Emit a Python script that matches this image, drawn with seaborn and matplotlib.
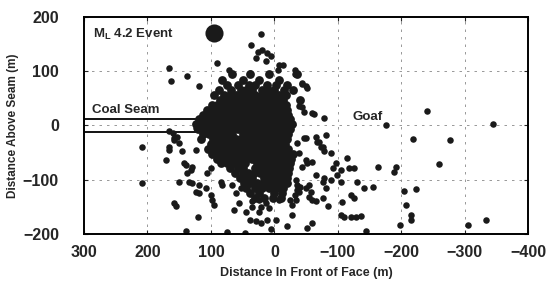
import numpy as np
import pandas as pd
import matplotlib
matplotlib.use("Agg")
import matplotlib.pyplot as plt
import seaborn as sns

# ── data ────────────────────────────────────────────────────────────────────
# dense cluster around the face, one row per height band: (y, [x, ...])
blob_rows = [
    (95, [66, 39, 8, -35]),
    (84, [82, 50, 24, -8]),
    (75, [75, 58, 40, 30, 12, -2, -20]),
    (66, [88, 68, 52, 44, 35, 20, 10, 0, -15, -30]),
    (56, [95, 80, 70, 60, 50, 40, 30, 20, 10, 2, -8, -18]),
    (47, [85, 76, 67, 58, 49, 40, 31, 22, 13, 4, -5, -14, -40]),
    (38, [98, 90, 81, 72, 63, 54, 45, 36, 27, 18, 9, 0, -9, -18]),
    (29, [106, 97, 88, 79, 70, 61, 52, 43, 34, 25, 16, 7, -2, -11, -20]),
    (20, [112, 103, 94, 85, 76, 67, 58, 49, 40, 31, 22, 13, 4, -5, -14, -22]),
    (11, [118, 109, 100, 91, 82, 73, 64, 55, 46, 37, 28, 19, 10, 1, -8, -17, -25]),
    (2, [124, 115, 106, 97, 88, 79, 70, 61, 52, 43, 34, 25, 16, 7, -2, -11, -20, -28]),
    (-7, [120, 111, 102, 93, 84, 75, 66, 57, 48, 39, 30, 21, 12, 3, -6, -15, -24]),
    (-16, [112, 103, 94, 85, 76, 67, 49, 40, 31, 22, 13, 4, -5, -14, -22]),
    (-25, [116, 97, 88, 79, 70, 61, 52, 43, 34, 25, 16, 7, -2, -11, -20]),
    (-34, [100, 91, 82, 73, 64, 55, 46, 37, 28, 19, 10, 1, -8, -17]),
    (-43, [104, 95, 86, 77, 68, 59, 50, 41, 32, 23, 14, 5, -4, -13, -22]),
    (-52, [98, 88, 79, 70, 61, 52, 43, 34, 25, 16, 7, -2, -11, -20, -30]),
    (-61, [90, 81, 72, 63, 54, 45, 36, 27, 18, 9, 0, -9, -18, -26]),
    (-70, [84, 74, 64, 55, 46, 28, 19, 10, 1, -8, -17, -25]),
    (-79, [70, 58, 49, 31, 22, 13, 4, -5, -14, -23]),
    (-88, [62, 50, 41, 32, 23, 14, 5, -4, -13, -22]),
    (-97, [54, 44, 35, 17, 8, -1, -10, -20]),
    (-106, [48, 38, 28, 18, 9, 0, -10, -20]),
    (-115, [44, 30, 20, 8, -3, -14]),
    (-124, [38, 24, 0, -12]),
    (-133, [30, 16, 2, -10]),
]

upper_events = [(21, 169), (37, 148), (26, 136), (19, 139), (11, 133), (5, 128),
                (29, 124), (13, 118), (-8, 111), (90, 115), (166, 106), (137, 91),
                (163, 82), (118, 73), (-32, 103), (-32, 94), (-44, 76), (-52, 69),
                (-13, 111), (71, 102), (39, 96), (-5, 102), (-44, 34), (-46, 25),
                (-63, 21), (-79, 14), (-39, 35), (-60, 23)]

left_events = [(208, -40), (208, -107), (166, -11), (158, -23), (166, -39), (150, -32),
               (145, -48), (124, -5), (171, -64), (166, -45), (158, -27), (153, -21),
               (160, -14), (142, -70), (131, -82), (137, -88), (139, -73), (150, -104),
               (129, -107), (124, -122), (118, -125), (108, -116), (100, -128), (98, -137),
               (95, -147), (84, -104), (63, -155), (66, -110), (53, -116), (158, -143),
               (155, -148), (121, -169), (139, -194), (74, -196), (47, -198), (129, -76),
               (124, -45), (134, -104), (118, -110), (82, -110), (60, -125), (55, -143),
               (106, -88), (100, -78)]

lower_events = [(35, -140), (24, -137), (13, -143), (39, -174), (29, -177), (21, -180),
                (11, -174), (-3, -174), (24, -159), (-28, -147), (-34, -137), (-39, -122),
                (-36, -110), (-50, -116), (35, -150), (21, -150), (8, -153), (-8, -137),
                (45, -160), (-20, -185), (5, -190), (-55, -131), (-66, -140), (-28, -165),
                (-60, -179), (-52, -189), (-24, -137), (-32, -128), (-36, -119)]

right_events = [(-36, -33), (-50, -24), (-52, -70), (-44, 78), (-50, 72), (-66, -21),
                (-71, -30), (-76, -39), (-47, -24), (-39, -51), (-50, -64), (-44, -76),
                (-34, -100), (-41, -113), (-66, -91), (-76, -104), (-81, -116), (-82, -17),
                (-68, -30), (-74, -39), (-79, -48), (-89, -51), (-60, -67), (-97, -69),
                (-115, -60), (-92, -78), (-105, -82), (-118, -78), (-126, -78), (-99, -91),
                (-105, -104), (-79, -97), (-89, -100), (-131, -105), (-142, -116),
                (-155, -114), (-55, -110), (-58, -122), (-60, -137), (-76, -134),
                (-84, -148), (-107, -142), (-121, -128), (-125, -134), (-105, -165),
                (-110, -169), (-121, -169), (-129, -168), (-137, -167), (-145, -194)]

goaf_events = [(-176, 0), (-241, 27), (-344, 3), (-219, -25), (-277, -27), (-259, -71),
               (-164, -77), (-191, -76), (-189, -86), (-205, -120), (-223, -117),
               (-208, -147), (-215, -165), (-215, -175), (-198, -183), (-305, -183),
               (-333, -174)]

big_event = (95, 170)        # ML 4.2 event
seam_x = [300, 100]          # coal seam extent ahead of face
seam_top, seam_bottom = 12, -12

x_ticks = [300, 200, 100, 0, -100, -200, -300, -400]
y_ticks = [-200, -100, 0, 100, 200]

# ── build tables ────────────────────────────────────────────────────────────
blob_df = pd.DataFrame([(x, y) for y, xs in blob_rows for x in xs],
                       columns=["dist_face", "dist_seam"])
sparse_df = pd.DataFrame(upper_events + left_events + lower_events + right_events + goaf_events,
                         columns=["dist_face", "dist_seam"])

sns.set_style("white")
plt.rcParams["font.family"] = ["Liberation Sans", "DejaVu Sans"]

fig = plt.figure(figsize=(5.49, 2.91), dpi=100)
ax = fig.add_axes([0.153, 0.196, 0.809, 0.746])

# grid (sparse dashed, like the scan)
for gx in x_ticks[1:-1]:
    ax.axvline(gx, color="#888888", lw=0.6, ls=(0, (3, 6)), zorder=0)
for gy in y_ticks[1:-1]:
    ax.axhline(gy, color="#888888", lw=0.6, ls=(0, (3, 6)), zorder=0)

# coal seam
ax.hlines([seam_top, seam_bottom], seam_x[1], seam_x[0], color="black", lw=1.3, zorder=1)

sns.scatterplot(data=blob_df, x="dist_face", y="dist_seam", ax=ax, color="#1a1a1a",
                s=40, linewidth=0, zorder=2, legend=False)
sns.scatterplot(data=sparse_df, x="dist_face", y="dist_seam", ax=ax, color="#1a1a1a",
                s=22, linewidth=0, zorder=2, legend=False)
ax.scatter([big_event[0]], [big_event[1]], s=170, color="#1a1a1a", lw=0, zorder=3)

ax.text(286, 168, "M$_\\mathregular{L}$ 4.2 Event", fontsize=9.5, fontweight="bold",
        va="center", ha="left")
ax.text(287, 28, "Coal Seam", fontsize=9.5, fontweight="bold", va="center", ha="left")
ax.text(-123, 16, "Goaf", fontsize=9.5, fontweight="bold", va="center", ha="left")

ax.set_xlim(300, -400)
ax.set_ylim(-200, 200)
ax.set_xticks(x_ticks)
ax.set_yticks(y_ticks)
ax.tick_params(axis="both", labelsize=11.5, direction="in", length=3, width=0.8,
               top=True, right=True, bottom=True, left=True)
ax.tick_params(axis="x", pad=8)
ax.tick_params(axis="y", pad=18)
for lab in ax.get_xticklabels() + ax.get_yticklabels():
    lab.set_fontweight("bold")
ax.set_xlabel("Distance In Front of Face (m)", fontsize=9, fontweight="bold", labelpad=5)
ax.set_ylabel("Distance Above Seam (m)", fontsize=8.5, fontweight="bold", labelpad=3)
for sp in ax.spines.values():
    sp.set_visible(True)
    sp.set_color("black")
    sp.set_linewidth(1.4)

fig.savefig("out.png", dpi=100)
plt.close(fig)
